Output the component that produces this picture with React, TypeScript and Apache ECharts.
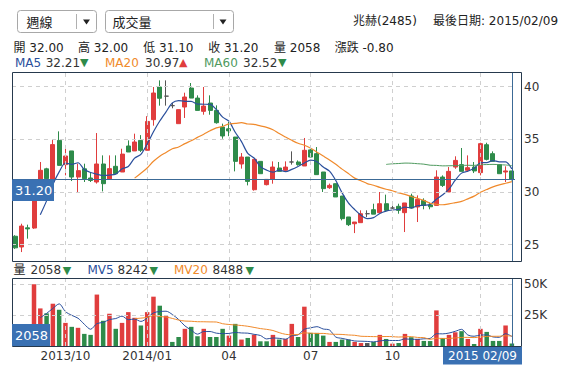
import React, { useEffect, useRef } from 'react';
import * as echarts from 'echarts';

// ---- data (weekly candles, 2013/08/05 .. 2015/02/09) ----
const opens = [25.8,24.78,26.6,26.58,31.2,32.2,31.2,34.9,32.6,33.9,31.42,32.2,31.33,30.95,32.66,31.2,32.44,31.9,34.37,33.9,34.9,33.96,36.87,39.97,39.1,38.2,36.49,38.07,39.87,38.92,37.66,38.45,37.75,36.17,36.0,35.22,32.66,33.32,30.22,32.91,30.7,31.2,32.28,32.06,32.85,32.85,32.47,34.0,33.64,31.9,30.41,30.79,29.62,27.63,26.99,27.09,27.94,28.32,28.04,28.89,28.48,28.64,28.04,29.62,28.58,29.2,28.77,28.73,31.42,30.0,32.37,32.6,32.06,32.37,31.84,34.49,33.64,32.6,31.9,32.0];
const closes = [24.7,26.77,26.5,29.2,32.06,31.27,34.5,32.53,33.42,31.42,32.03,31.27,31.1,32.66,30.79,32.22,31.74,33.6,33.8,34.75,33.96,36.7,39.4,38.9,39.1,38.2,37.82,39.02,38.92,37.75,38.16,37.75,36.58,35.32,35.8,32.91,33.32,31.01,33.1,31.74,31.2,32.37,31.96,32.37,32.85,32.6,33.96,33.32,31.65,30.32,30.63,29.53,27.47,26.9,27.15,27.94,27.94,27.9,28.89,28.26,28.48,28.26,28.96,28.48,29.3,28.73,28.6,31.42,30.63,31.96,33.0,31.96,32.31,32.0,34.59,33.1,32.91,31.74,32.0,31.2];
const lows = [24.6,24.3,25.57,26.5,31.2,31.1,31.2,32.5,31.58,31.04,29.94,30.95,30.95,30.8,30.06,31.2,31.74,31.9,33.8,33.9,33.8,33.96,36.3,38.2,38.2,37.95,36.49,37.03,38.92,37.75,37.34,37.34,36.49,35.06,35.3,31.96,32.22,30.63,30.13,31.74,30.63,30.79,31.96,31.9,32.6,32.5,32.47,33.32,31.65,30.0,30.3,29.53,27.31,26.77,26.1,27.09,27.63,27.9,28.04,28.1,28.1,27.94,26.2,28.42,27.15,28.36,28.36,28.73,30.48,30.0,32.2,31.96,31.9,31.8,31.58,33.0,32.91,31.74,30.95,31.1];
const highs = [25.9,26.99,26.9,29.27,32.85,32.3,34.97,35.76,34.43,33.9,32.69,32.69,31.8,35.6,33.48,33.48,33.48,34.11,34.9,35.54,35.4,37.2,39.97,40.6,40.6,38.45,37.82,39.43,40.35,39.18,39.97,39.18,38.23,36.49,36.65,35.22,33.7,33.32,33.1,32.91,31.2,32.91,32.85,32.91,33.86,33.0,35.13,34.27,34.27,31.9,30.8,30.79,29.62,27.63,27.15,28.26,28.26,28.89,30.0,29.75,28.7,28.89,28.96,29.84,29.68,29.4,29.0,32.06,31.58,32.37,33.39,34.18,33.48,32.85,34.68,34.68,33.86,32.6,32.44,32.0];
const volumes = [9000,14000,11000,50000,30400,26400,34200,29300,18700,15500,14700,9800,9000,41600,20400,26100,13900,18700,27400,22800,16600,27400,39900,32600,24200,3300,7300,13900,15500,7900,13900,7300,7300,13900,8400,17900,5200,6500,9200,3800,3800,9000,5200,5700,17900,7300,31800,10600,10600,8400,3300,3300,5200,5200,3300,2400,2400,3300,9000,5700,1900,2400,9800,7100,5700,4100,4000,28800,6500,9000,11100,12000,5700,1600,13900,11400,4100,4100,16600,2058];

const firstWeek = '2013-08-05';
const gridIdx = [8, 21, 34, 47, 60, 74];
const labelIdx = [8, 21, 34, 47, 60];
const labelText = ['2013/10', '2014/01', '04', '07', '10'];
const priceTicks = [25, 30, 35, 40];
const volTicks = [25000, 50000];

const RED = '#e03d3d';
const GREEN = '#2e8b4a';
const DOJI = '#555555';
const BLUE = '#2a4f9c';
const ORANGE = '#f08a2c';
const MA60C = '#4f9a5f';
const CROSS = '#3c6a96';
const BOX = '#3a71b3';
const FRAME = '#26394d';
const TXT = '#333333';
const FONT = "'DejaVu Sans', 'Noto Sans CJK TC', sans-serif";

const pad = (n: number) => (n < 10 ? '0' + n : '' + n);
const start = Date.parse(firstWeek + 'T00:00:00Z');
const dates = opens.map((_, i) => {
  const d = new Date(start + i * 7 * 86400000);
  return `${d.getUTCFullYear()}/${pad(d.getUTCMonth() + 1)}/${pad(d.getUTCDate())}`;
});

function movingAvg(arr: number[], n: number) {
  return arr.map((_, i) => {
    if (i < n - 1) return '-';
    let s = 0;
    for (let k = i - n + 1; k <= i; k++) s += arr[k];
    return +(s / n).toFixed(3);
  });
}

function buildOption() {
  const candle = opens.map((o, i) => [o, closes[i], lows[i], highs[i]]);
  const volData = volumes.map((v, i) => {
    const prev = i === 0 ? opens[0] : closes[i - 1];
    const c = closes[i] > prev ? RED : closes[i] < prev ? GREEN : DOJI;
    return { value: v, itemStyle: { color: c } };
  });
  const last = dates[dates.length - 1];
  const lastClose = closes[closes.length - 1];

  const gridLines = (xi: number, yVals: number[]) => ({
    type: 'line',
    xAxisIndex: xi,
    yAxisIndex: xi,
    data: [],
    silent: true,
    z: 1,
    markLine: {
      silent: true,
      symbol: 'none',
      animation: false,
      label: { show: false },
      emphasis: { disabled: true },
      lineStyle: { type: [4, 4], color: '#cfcfcf', width: 1 },
      data: [
        ...gridIdx.map((i) => ({ xAxis: dates[i] })),
        ...yVals.map((v) => ({ yAxis: v })),
      ],
    },
  });
  const crossLines = (xi: number, withH: boolean) => ({
    type: 'line',
    xAxisIndex: xi,
    yAxisIndex: xi,
    data: [],
    silent: true,
    z: 6,
    markLine: {
      silent: true,
      symbol: 'none',
      animation: false,
      label: { show: false },
      emphasis: { disabled: true },
      lineStyle: { type: 'solid', color: CROSS, width: 1 },
      data: withH ? [{ xAxis: last }, { yAxis: lastClose }] : [{ xAxis: last }],
    },
  });

  const t = (text: string, x: number, y: number, fill = TXT, size = 12, extra: any = {}) => ({
    type: 'text',
    x,
    y,
    z: 100,
    style: { text, fill, fontSize: size, fontFamily: FONT, verticalAlign: 'middle', align: 'left', ...extra },
  });

  const graphic: any[] = [
    // dropdown 1
    { type: 'rect', z: 100, shape: { x: 17.5, y: 10.5, width: 79, height: 22, r: 3 }, style: { fill: '#fff', stroke: '#a8a8a8', lineWidth: 1 } },
    { type: 'line', z: 100, shape: { x1: 76.5, y1: 14, x2: 76.5, y2: 29 }, style: { stroke: '#b0b0b0', lineWidth: 1 } },
    { type: 'polygon', z: 100, shape: { points: [[83, 19.5], [90, 19.5], [86.5, 24.5]] }, style: { fill: '#222' } },
    t('週線', 26.5, 22, '#222', 13),
    // dropdown 2
    { type: 'rect', z: 100, shape: { x: 105.5, y: 10.5, width: 128, height: 22, r: 3 }, style: { fill: '#fff', stroke: '#a8a8a8', lineWidth: 1 } },
    { type: 'line', z: 100, shape: { x1: 213.5, y1: 14, x2: 213.5, y2: 29 }, style: { stroke: '#b0b0b0', lineWidth: 1 } },
    { type: 'polygon', z: 100, shape: { points: [[219.5, 19.5], [226.5, 19.5], [223, 24.5]] }, style: { fill: '#222' } },
    t('成交量', 112.5, 22, '#222', 13),
    // top right
    t('兆赫(2485)', 353, 21, '#222', 12),
    t('最後日期: 2015/02/09', 433, 21, '#222', 12),
    // OHLC row
    t('開 32.00', 13.5, 47.5, '#222'),
    t('高 32.00', 78, 47.5, '#222'),
    t('低 31.10', 143.3, 47.5, '#222'),
    t('收 31.20', 208.3, 47.5, '#222'),
    t('量 2058', 274, 47.5, '#222'),
    t('漲跌 -0.80', 334.7, 47.5, '#222'),
    // MA row
    t('MA5', 15, 62.5, BLUE),
    t('32.21', 45.7, 62.5, TXT),
    t('▼', 80, 62.5, GREEN, 11),
    t('MA20', 105, 62.5, ORANGE),
    t('30.97', 145, 62.5, TXT),
    t('▲', 179, 62.5, RED, 11),
    t('MA60', 204, 62.5, MA60C),
    t('32.52', 243, 62.5, TXT),
    t('▼', 278, 62.5, GREEN, 11),
    // volume row
    t('量', 13.5, 270, '#222'),
    t('2058', 30.5, 270, TXT),
    t('▼', 62.7, 270, GREEN, 11),
    t('MV5', 87.5, 270, BLUE),
    t('8242', 117.5, 270, TXT),
    t('▼', 149.5, 270, GREEN, 11),
    t('MV20', 174, 270, ORANGE),
    t('8488', 212.5, 270, TXT),
    t('▼', 245.5, 270, GREEN, 11),
    // frames
    { type: 'rect', z: 90, shape: { x: 12.5, y: 72.5, width: 509, height: 189 }, style: { fill: 'none', stroke: FRAME, lineWidth: 1 } },
    { type: 'rect', z: 90, shape: { x: 12.5, y: 278.5, width: 509, height: 68 }, style: { fill: 'none', stroke: FRAME, lineWidth: 1 } },
    // crosshair labels
    { type: 'rect', z: 100, shape: { x: 12, y: 179.5, width: 42, height: 21.5 }, style: { fill: BOX } },
    t('31.20', 15, 190.5, '#fff', 13),
    { type: 'rect', z: 100, shape: { x: 12, y: 324, width: 38, height: 22 }, style: { fill: BOX } },
    t('2058', 15, 335, '#fff', 13),
    { type: 'rect', z: 100, shape: { x: 443, y: 347, width: 79, height: 17.5 }, style: { fill: BOX } },
    t('2015 02/09', 482.5, 356, '#fff', 12, { align: 'center' }),
  ];

  return {
    animation: false,
    backgroundColor: '#ffffff',
    textStyle: { fontFamily: FONT },
    grid: [
      { left: 12, top: 73, width: 503, height: 188, show: false },
      { left: 12, top: 278, width: 503, height: 68, show: false },
    ],
    xAxis: [
      {
        type: 'category', gridIndex: 0, data: dates, boundaryGap: true,
        axisLine: { show: false }, axisTick: { show: false }, axisLabel: { show: false }, splitLine: { show: false },
      },
      {
        type: 'category', gridIndex: 1, data: dates, boundaryGap: true,
        axisLine: { show: false }, axisTick: { show: false }, splitLine: { show: false },
        axisLabel: {
          interval: (i: number) => labelIdx.indexOf(i) >= 0,
          formatter: (_v: string, i: number) => {
            const k = labelIdx.indexOf(i);
            return k >= 0 ? labelText[k] : '';
          },
          color: TXT, fontSize: 12, fontFamily: FONT, margin: 4,
        },
      },
    ],
    yAxis: [
      {
        type: 'value', gridIndex: 0, position: 'right', min: 23.45, max: 41.3, scale: true,
        axisLine: { show: false }, axisTick: { show: false }, splitLine: { show: false },
        axisLabel: { customValues: priceTicks, color: TXT, fontSize: 12, fontFamily: FONT, margin: 9 },
      },
      {
        type: 'value', gridIndex: 1, position: 'right', min: 0, max: 55000, interval: 25000,
        axisLine: { show: false }, axisTick: { show: false }, splitLine: { show: false },
        axisLabel: {
          formatter: (v: number) => (volTicks.indexOf(v) >= 0 ? v / 1000 + 'K' : ''),
          color: TXT, fontSize: 12, fontFamily: FONT, margin: 9,
        },
      },
    ],
    series: [
      gridLines(0, priceTicks),
      {
        type: 'candlestick', xAxisIndex: 0, yAxisIndex: 0, data: candle, barWidth: 4.5, z: 3,
        itemStyle: { color: RED, color0: GREEN, borderColor: RED, borderColor0: GREEN, borderColorDoji: DOJI, borderWidth: 1 },
      },
      { type: 'line', xAxisIndex: 0, yAxisIndex: 0, data: movingAvg(closes, 5), symbol: 'none', smooth: 0.3, z: 4, lineStyle: { color: BLUE, width: 1.2 } },
      { type: 'line', xAxisIndex: 0, yAxisIndex: 0, data: movingAvg(closes, 20), symbol: 'none', smooth: 0.3, z: 4, lineStyle: { color: ORANGE, width: 1.2 } },
      { type: 'line', xAxisIndex: 0, yAxisIndex: 0, data: movingAvg(closes, 60), symbol: 'none', smooth: 0.3, z: 4, lineStyle: { color: MA60C, width: 1 } },
      crossLines(0, true),
      gridLines(1, volTicks),
      { type: 'bar', xAxisIndex: 1, yAxisIndex: 1, data: volData, barWidth: 4.5, z: 3 },
      { type: 'line', xAxisIndex: 1, yAxisIndex: 1, data: movingAvg(volumes, 5), symbol: 'none', smooth: 0.3, z: 4, lineStyle: { color: BLUE, width: 1 } },
      { type: 'line', xAxisIndex: 1, yAxisIndex: 1, data: movingAvg(volumes, 20), symbol: 'none', smooth: 0.3, z: 4, lineStyle: { color: ORANGE, width: 1 } },
      crossLines(1, false),
    ],
    graphic,
  };
}

export default function App() {
  const ref = useRef<HTMLDivElement>(null);
  useEffect(() => {
    if (!ref.current) return;
    const chart = echarts.init(ref.current, null, { renderer: 'svg' });
    chart.setOption(buildOption() as any);
    return () => chart.dispose();
  }, []);
  return <div ref={ref} style={{ position: 'absolute', left: 0, top: 0, width: 578, height: 381, background: '#fff' }} />;
}
